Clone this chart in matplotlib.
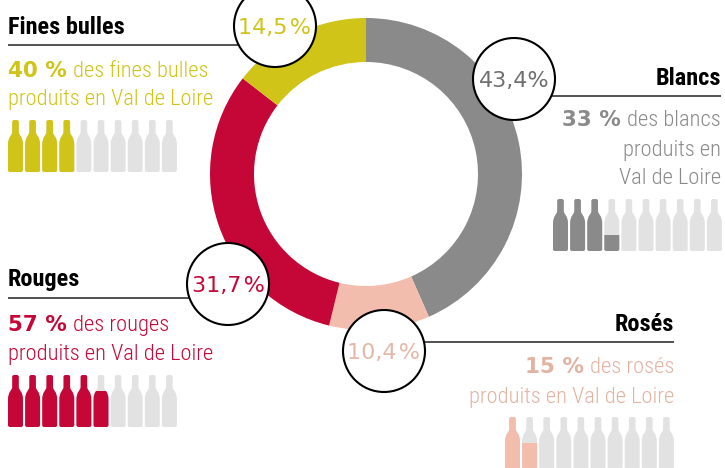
import matplotlib
matplotlib.use("Agg")
import matplotlib.pyplot as plt
from matplotlib.patches import Circle, PathPatch, Rectangle
from matplotlib.path import Path

categories = ["Blancs", "Rosés", "Rouges", "Fines bulles"]
shares = [43.4, 10.4, 31.7, 14.5]
share_labels = ["43,4%", "10,4\u200a%", "31,7\u200a%", "14,5\u200a%"]
region_shares = [33, 15, 57, 40]
region_labels = ["33 %", "15 %", "57 %", "40 %"]
descriptions = [
    ["des blancs", "produits en", "Val de Loire"],
    ["des rosés", "produits en Val de Loire"],
    ["des rouges", "produits en Val de Loire"],
    ["des fines bulles", "produits en Val de Loire"],
]
colors = ["#8a8a8a", "#f3bdad", "#c50737", "#cfc417"]
label_colors = ["#6f6f6f", "#e3b8a8", "#c50737", "#cfc417"]
text_colors = ["#8a8a8a", "#e3b3a2", "#c50737", "#cfc417"]
bold_colors = ["#8a8a8a", "#e0b3a2", "#c50737", "#cfc417"]

fig = plt.figure(figsize=(7.25, 4.68), dpi=100)
ax = fig.add_axes([0, 0, 1, 1])
ax.pie(shares, colors=colors, startangle=-90, counterclock=True,
       center=(366, 174), radius=156, wedgeprops={"width": 44})
ax.set_aspect("equal")
ax.set_xlim(0, 725)
ax.set_ylim(468, 0)
ax.axis("off")


def bottle_path(x, y):
    v = [(4.2, 2), (4.2, 0), (6.2, 0), (8.8, 0), (10.8, 0), (10.8, 2),
         (10.8, 12), (11, 16), (15, 16), (15, 25),
         (15, 50), (15, 52), (13, 52),
         (2, 52), (0, 52), (0, 50),
         (0, 25), (0, 16), (4, 16), (4.2, 12), (4.2, 2)]
    c = [Path.MOVETO, Path.CURVE3, Path.CURVE3, Path.LINETO, Path.CURVE3, Path.CURVE3,
         Path.LINETO, Path.CURVE4, Path.CURVE4, Path.CURVE4,
         Path.LINETO, Path.CURVE3, Path.CURVE3,
         Path.LINETO, Path.CURVE3, Path.CURVE3,
         Path.LINETO, Path.CURVE4, Path.CURVE4, Path.CURVE4, Path.CLOSEPOLY]
    return Path([(x + a, y + b) for a, b in v], c)


def draw_bottles(x0, y0, value, color):
    for i in range(10):
        x = x0 + i * 17.1
        ax.add_patch(PathPatch(bottle_path(x, y0), fc="#e2e2e2", ec="none", zorder=2))
        level = min(max(value / 10 - i, 0), 1)
        if level > 0:
            top = y0 + 52 * (1 - level)
            p = PathPatch(bottle_path(x, y0), fc=color, ec="none", zorder=3)
            ax.add_patch(p)
            clip = Rectangle((x - 1, top), 17, 52 * level + 1, transform=ax.transData)
            p.set_clip_path(clip)


def draw_block(i, right, x, title_y, rule_y, rule_x0, rule_x1, line_ys, bottle_x, bottle_y, circle):
    ha = "right" if right else "left"
    ax.text(x, title_y, categories[i], fontsize=17.5, fontweight="bold", family="Roboto Condensed",
            color="black", ha=ha, va="baseline", zorder=5)
    ax.plot([rule_x0, rule_x1], [rule_y, rule_y], color="#333333", lw=1.2, zorder=4,
            solid_capstyle="butt")

    rend = fig.canvas.get_renderer()
    first = descriptions[i][0]
    bold_kw = dict(fontsize=15.5, fontweight="bold", family="DejaVu Sans", color=bold_colors[i],
                   va="baseline", zorder=5)
    light_kw = dict(fontsize=16.2, fontweight="light", family="Roboto Condensed",
                    color=text_colors[i], va="baseline", zorder=5)
    if right:
        t = ax.text(x, line_ys[0], first, ha="right", **light_kw)
        w = t.get_window_extent(rend).width
        ax.text(x - w - 6, line_ys[0], region_labels[i], ha="right", **bold_kw)
    else:
        t = ax.text(x, line_ys[0], region_labels[i], ha="left", **bold_kw)
        w = t.get_window_extent(rend).width
        ax.text(x + w + 6, line_ys[0], first, ha="left", **light_kw)
    for line, y in zip(descriptions[i][1:], line_ys[1:]):
        ax.text(x, y, line, ha=ha, **light_kw)

    draw_bottles(bottle_x, bottle_y, region_shares[i], colors[i])

    cx, cy = circle
    ax.add_patch(Circle((cx, cy), 41, fc="white", ec="black", lw=1.5, zorder=6))
    ax.text(cx, cy + 8, share_labels[i], fontsize=16, family="DejaVu Sans",
            color=label_colors[i], ha="center", va="baseline", zorder=7)


draw_block(0, True, 721, 85, 96, 540, 721, [126, 156, 184], 553, 199, (514, 79))
draw_block(1, True, 674, 331, 342, 420, 674, [373, 403], 505, 417, (384, 351))
draw_block(2, False, 8, 286, 298, 8, 195, [331, 360], 8, 375, (228, 284))
draw_block(3, False, 8, 34, 45, 8, 240, [77, 105], 8, 120, (275, 26))

fig.savefig("out.png", dpi=100)
